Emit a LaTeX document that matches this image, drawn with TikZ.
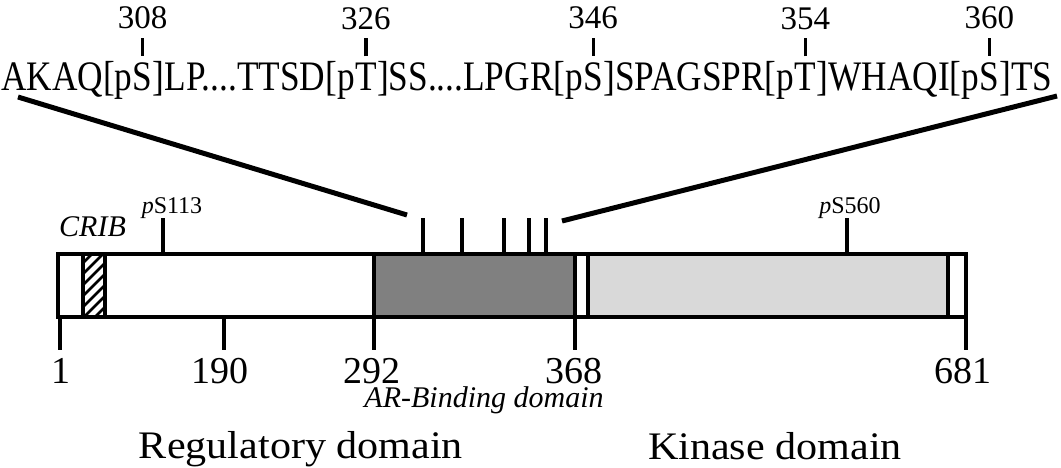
\documentclass[tikz,border=0pt]{standalone}
\usepackage{fontspec}
\setmainfont{Liberation Serif}
\newfontfamily\seqfont[FakeStretch=0.84]{Liberation Serif}
\newfontfamily\widefont[FakeStretch=1.08]{Liberation Serif}
\definecolor{darkfill}{gray}{0.5}
\definecolor{lightfill}{gray}{0.85}
\begin{document}
\begin{tikzpicture}[x=1pt,y=-1pt,
  seq/.style={inner sep=0pt, anchor=base west, font=\seqfont\fontsize{42}{42}\selectfont},
  topnum/.style={inner sep=0pt, anchor=base, font=\fontsize{33}{33}\selectfont},
  botnum/.style={inner sep=0pt, anchor=base, font=\fontsize{38}{38}\selectfont},
  domlabel/.style={inner sep=0pt, anchor=base, font=\widefont\fontsize{39}{39}\selectfont},
  smalllabel/.style={inner sep=0pt, anchor=base, font=\fontsize{24}{24}\selectfont},
  frame/.style={line width=3.5pt},
  mtick/.style={line width=3.2pt},
  expand/.style={line width=5pt}]
\useasboundingbox (0,0) rectangle (1061,467);

% sequence
\node[seq] (p1) at (1,90) {AKAQ[p};
\node[seq] (t1) at (p1.base east) {S};
\node[seq] (p2) at (t1.base east) {]LP....TTSD[p};
\node[seq] (t2) at (p2.base east) {T};
\node[seq] (p3) at (t2.base east) {]SS....LPGR[p};
\node[seq] (t3) at (p3.base east) {S};
\node[seq] (p4) at (t3.base east) {]SPAGSPR[p};
\node[seq] (t4) at (p4.base east) {T};
\node[seq] (p5) at (t4.base east) {]WHAQI[p};
\node[seq] (t5) at (p5.base east) {S};
\node[seq] (p6) at (t5.base east) {]TS};

\foreach \t/\n in {t1/308,t2/326,t3/346,t4/354,t5/360}{
  \draw[mtick] ([yshift=6pt]\t.north) -- ([yshift=24pt]\t.north);
  \node[topnum] at ([yshift=33pt]\t.north) {\n};
}

% fills
\fill[darkfill] (374,254) rectangle (575,317);
\fill[lightfill] (588,254) rectangle (948,317);
% hatch
\begin{scope}
  \clip (83,254) rectangle (105,317);
  \foreach \k in {0,...,8}{
    \draw[line width=2.6pt] (70,{254+\k*11}) -- (120,{204+\k*11});
  }
\end{scope}
% frame and dividers
\draw[frame] (58,254) rectangle (966,317);
\foreach \x in {83,105,374,575,588,948}{
  \draw[frame] (\x,254) -- (\x,317);
}

% ticks above box
\foreach \x in {163,423,462,504,529,546,847}{
  \draw[mtick] (\x,218) -- (\x,254);
}
\coordinate (lin) at (407,215);
\coordinate (rin) at (562,221);
\coordinate (lout) at (18,97);
\coordinate (rout) at (1057,96);
\draw[expand] (lout) -- (lin);
\draw[expand] (rin) -- (rout);

% small labels
\node[smalllabel] (ps113) at (172,213) {\textit{p}S113};
\node[smalllabel] (ps560) at (850,213) {\textit{p}S560};
\node[inner sep=0pt, anchor=base west, font=\itshape\fontsize{30}{30}\selectfont] (crib) at (59,236) {CRIB};

% ticks below box
\foreach \x/\n in {60/1,224/190,374/292,575/368,966/681}{
  \draw[mtick] (\x,317) -- (\x,350);
}
\node[botnum] (n1) at (61,383) {1};
\node[botnum] (n190) at (220,383) {190};
\node[botnum] (n292) at (372,383) {292};
\node[botnum] (n368) at (574,383) {368};
\node[botnum] (n681) at (963,383) {681};

\node[inner sep=0pt, anchor=base, font=\itshape\fontsize{30}{30}\selectfont] (ar) at (484,407) {AR-Binding domain};
\node[domlabel] (reg) at (301,458) {Regulatory domain};
\node[domlabel] (kin) at (775,459) {Kinase domain};
\end{tikzpicture}
\end{document}
